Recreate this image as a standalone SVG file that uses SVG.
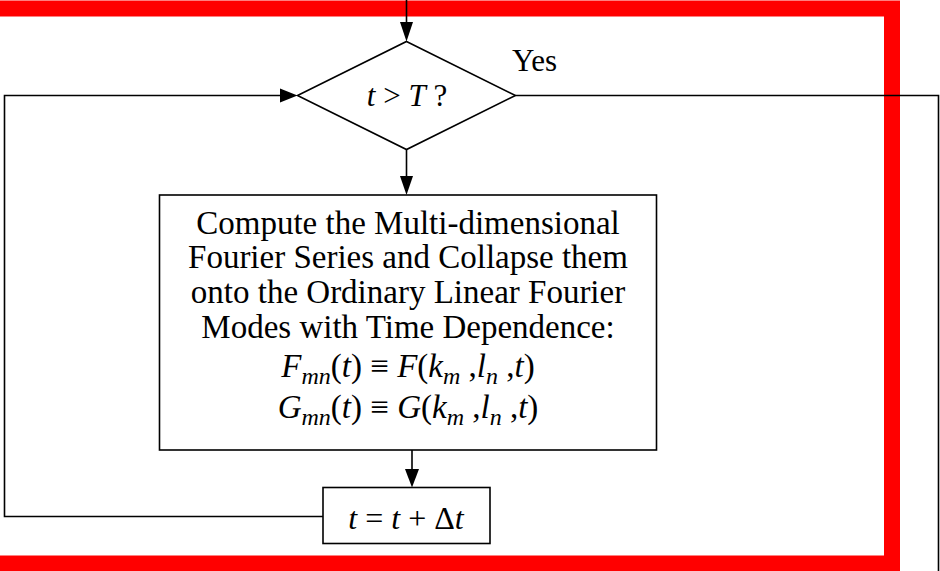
<svg xmlns="http://www.w3.org/2000/svg" width="940" height="571" viewBox="0 0 940 571">
<style>
.ln{fill:none;stroke:#000;stroke-width:1.6}
.nd{fill:#fff;stroke:#000;stroke-width:1.6}
.ah{fill:#000;stroke:none}
text{font-family:"Liberation Serif","Times New Roman",serif;fill:#000}
.t{font-size:33px;text-anchor:middle}
.i{font-style:italic}
.s{font-size:24px}
</style>
<rect width="940" height="571" fill="#fff"/>
<path d="M -20 8.5 H 892 V 563.5 H -20" fill="none" stroke="#ff0000" stroke-width="16"/>
<g id="connectors">
  <line class="ln" x1="406.5" y1="0" x2="406.5" y2="24"/>
  <polygon class="ah" points="400,22 413,22 406.5,41.5"/>
  <path class="ln" d="M 323 516.5 H 4.5 V 95.5 H 282"/>
  <polygon class="ah" points="280,88.5 280,102.5 297.5,95.5"/>
  <path class="ln" d="M 515.5 95.5 H 938.5 V 571"/>
  <line class="ln" x1="406.5" y1="149.5" x2="406.5" y2="178"/>
  <polygon class="ah" points="400,176 413,176 406.5,195"/>
  <line class="ln" x1="412" y1="450" x2="412" y2="471"/>
  <polygon class="ah" points="405,469 419,469 412,487.5"/>
  <text x="512" y="71" font-size="31px">Yes</text>
</g>
<g id="decision">
  <polygon class="nd" points="406.5,41.5 515.5,95.5 406.5,149.5 297.5,95.5"/>
  <text class="t" x="407" y="106" style="font-size:31px"><tspan class="i">t</tspan> &gt; <tspan class="i">T</tspan> ?</text>
</g>
<g id="compute">
  <rect class="nd" x="159.5" y="195" width="497" height="255"/>
  <text class="t" x="408" y="234">Compute the Multi-dimensional</text>
  <text class="t" x="408" y="268">Fourier Series and Collapse them</text>
  <text class="t" x="408" y="303">onto the Ordinary Linear Fourier</text>
  <text class="t" x="408" y="338">Modes with Time Dependence:</text>
  <text class="t" x="408" y="377"><tspan class="i">F</tspan><tspan class="i s" dy="7">mn</tspan><tspan dy="-7">(</tspan><tspan class="i">t</tspan>) ≡ <tspan class="i">F</tspan>(<tspan class="i">k</tspan><tspan class="i s" dy="7">m</tspan><tspan dy="-7"> ,</tspan><tspan class="i">l</tspan><tspan class="i s" dy="7">n</tspan><tspan dy="-7"> ,</tspan><tspan class="i">t</tspan>)</text>
  <text class="t" x="408" y="418"><tspan class="i">G</tspan><tspan class="i s" dy="7">mn</tspan><tspan dy="-7">(</tspan><tspan class="i">t</tspan>) ≡ <tspan class="i">G</tspan>(<tspan class="i">k</tspan><tspan class="i s" dy="7">m</tspan><tspan dy="-7"> ,</tspan><tspan class="i">l</tspan><tspan class="i s" dy="7">n</tspan><tspan dy="-7"> ,</tspan><tspan class="i">t</tspan>)</text>
</g>
<g id="increment">
  <rect class="nd" x="323" y="487.5" width="167" height="56"/>
  <text class="t" x="406" y="529" style="font-size:32px"><tspan class="i">t</tspan> = <tspan class="i">t</tspan> + Δ<tspan class="i">t</tspan></text>
</g>
</svg>
